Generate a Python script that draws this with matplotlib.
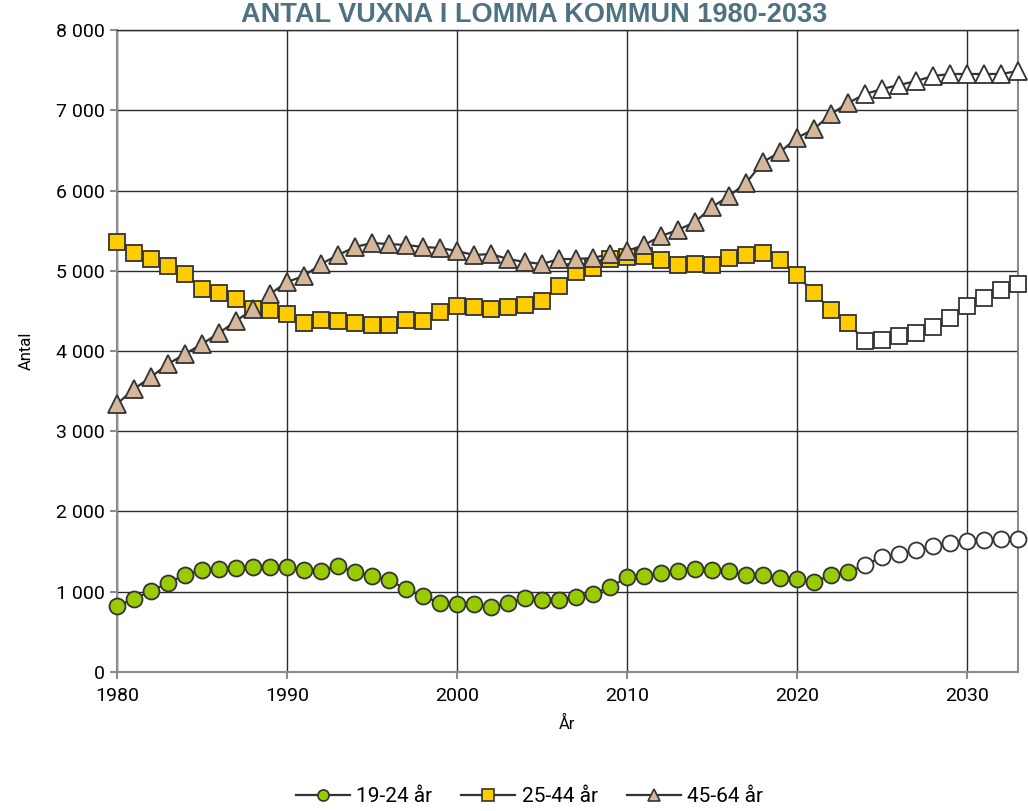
import matplotlib.pyplot as plt
import matplotlib.ticker as mticker
from matplotlib.lines import Line2D

years = list(range(1980, 2034))
first_prognos = 2024  # hollow markers from this year on

# 19-24 år
age_19_24 = [822, 910, 1009, 1109, 1209, 1271, 1283, 1296, 1308, 1308,
             1305, 1271, 1259, 1321, 1246, 1196, 1146, 1034, 947, 860,
             847, 847, 810, 860, 922, 897, 897, 935, 972, 1059,
             1178, 1196, 1234, 1259, 1283, 1271, 1259, 1209, 1209, 1171,
             1159, 1118, 1209, 1246, 1333, 1433, 1470, 1520, 1570, 1608,
             1636, 1645, 1657, 1654]

# 25-44 år
age_25_44 = [5358, 5221, 5146, 5059, 4960, 4773, 4723, 4648, 4523, 4511,
             4461, 4349, 4386, 4374, 4349, 4324, 4324, 4386, 4374, 4486,
             4561, 4548, 4523, 4548, 4573, 4623, 4810, 4985, 5034, 5146,
             5171, 5184, 5134, 5072, 5084, 5072, 5159, 5196, 5221, 5134,
             4947, 4723, 4511, 4349, 4125, 4137, 4187, 4224, 4299, 4411,
             4561, 4660, 4760, 4835]

# 45-64 år
age_45_64 = [3340, 3527, 3676, 3838, 3963, 4087, 4224, 4374, 4523, 4710,
             4860, 4935, 5084, 5196, 5296, 5346, 5333, 5321, 5296, 5284,
             5246, 5196, 5209, 5146, 5109, 5084, 5146, 5146, 5159, 5209,
             5246, 5321, 5433, 5508, 5607, 5794, 5931, 6093, 6355, 6480,
             6655, 6767, 6953, 7090, 7202, 7265, 7315, 7364, 7427, 7452,
             7452, 7452, 7452, 7489]

series = [
    ('19-24 år', age_19_24, 'o', '#99cc00', 11.5),
    ('25-44 år', age_25_44, 's', '#ffcc00', 11.5),
    ('45-64 år', age_45_64, '^', '#d5b89c', 12.5),
]

plt.rcParams['font.family'] = ['Roboto', 'DejaVu Sans']

fig = plt.figure(figsize=(10.28, 8.11), dpi=100)
ax = fig.add_axes([0.1138, 0.1714, 0.8765, 0.7916])

split = years.index(first_prognos)
edge = '#333333'

for name, vals, mk, col, ms in series:
    ax.plot(years, vals, color=edge, lw=1.6, zorder=3, clip_on=False)
    ax.plot(years[:split], vals[:split], ls='none', marker=mk, ms=ms,
            mfc=col, mec=edge, mew=1.3, zorder=4, clip_on=False)
    ax.plot(years[split:], vals[split:], ls='none', marker=mk, ms=ms,
            mfc='white', mec=edge, mew=1.3, zorder=4, clip_on=False)

ax.set_xlim(1980, 2033)
ax.set_ylim(0, 8000)
ax.set_xticks(range(1980, 2031, 10))
ax.set_yticks(range(0, 8001, 1000))
ax.yaxis.set_major_formatter(
    mticker.FuncFormatter(lambda v, p: '{:,.0f}'.format(v).replace(',', ' ')))

ax.grid(True, color='#2b2b2b', lw=1.0)
ax.set_axisbelow(True)
for side in ['left', 'bottom', 'right']:
    ax.spines[side].set_color('#8c8c8c')
    ax.spines[side].set_linewidth(1.5)
ax.spines['top'].set_color('#2b2b2b')
ax.spines['top'].set_linewidth(1.0)
ax.tick_params(axis='both', colors='#8c8c8c', labelcolor='black',
               labelsize=14, length=5, width=1.5)
ax.tick_params(axis='x', pad=6)

ax.set_ylabel('Antal', fontsize=12, labelpad=16)
ax.set_xlabel('År', fontsize=12, labelpad=8)

fig.text(0.52, 0.998, 'ANTAL VUXNA I LOMMA KOMMUN 1980-2033',
         ha='center', va='top', fontsize=19.5, fontweight='bold',
         color='#4f7282', family=['Liberation Sans Narrow', 'Liberation Sans'])

handles = [Line2D([], [], color=edge, lw=1.6, marker=mk, ms=8, mfc=col,
                  mec=edge, mew=1.2) for _, _, mk, col, _ in series]
fig.legend(handles, [s[0] for s in series], loc='center',
           bbox_to_anchor=(0.515, 0.018), ncol=3, frameon=False,
           fontsize=15, handlelength=2.6, columnspacing=1.4, handletextpad=0.3)

fig.savefig('out.png', dpi=100)
